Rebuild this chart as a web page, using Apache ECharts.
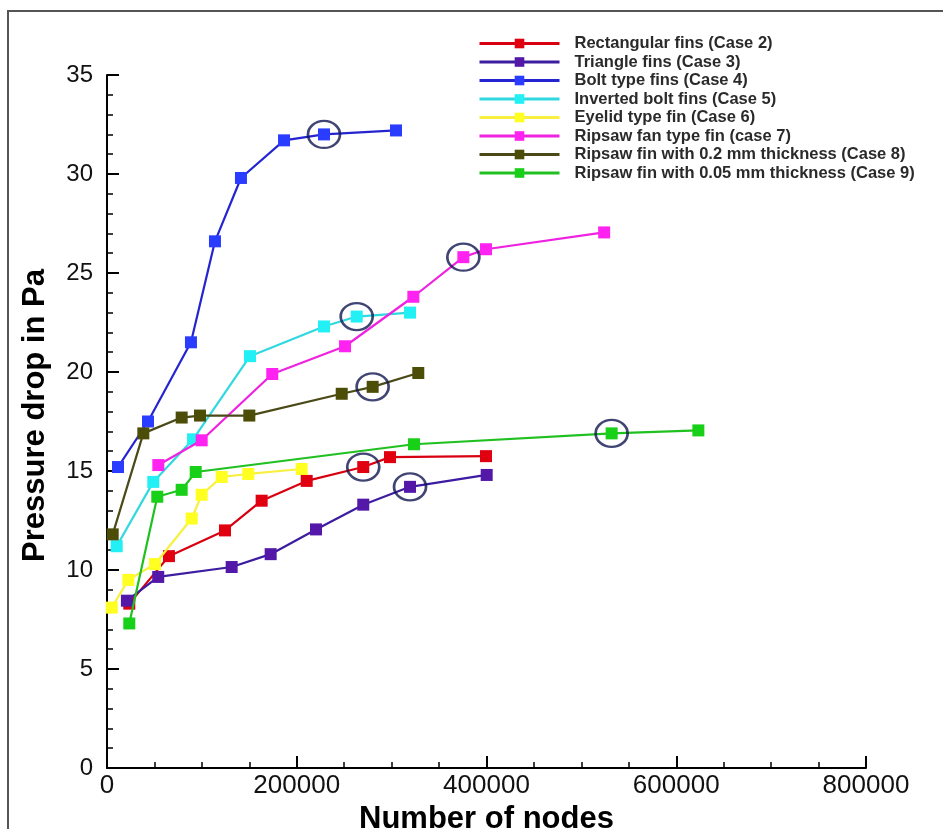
<!DOCTYPE html>
<html>
<head>
<meta charset="utf-8">
<script src="https://cdn.jsdelivr.net/npm/echarts@6/dist/echarts.min.js"></script>
<style>
  html, body { margin: 0; padding: 0; background: #fff; }
  #chart { width: 943px; height: 829px; }
</style>
</head>
<body>
<div id="chart"></div>
<script>
// series names (legend order)
var names = [
  'Rectangular fins (Case 2)',
  'Triangle fins (Case 3)',
  'Bolt type fins (Case 4)',
  'Inverted bolt fins (Case 5)',
  'Eyelid type fin (Case 6)',
  'Ripsaw fan type fin (case 7)',
  'Ripsaw fin with 0.2 mm thickness (Case 8)',
  'Ripsaw fin with 0.05 mm thickness (Case 9)'
];

// [nodes, pressure drop]
var rectFins = [[23500, 8.3], [65300, 10.7], [124400, 12.0], [163000, 13.5], [210500, 14.5], [270100, 15.2], [298300, 15.7], [399500, 15.75]];
var triFins = [[21000, 8.45], [54000, 9.65], [131400, 10.15], [172500, 10.8], [220300, 12.05], [270100, 13.3], [319400, 14.2], [400200, 14.8]];
var boltFins = [[11600, 15.2], [43200, 17.5], [88500, 21.5], [113800, 26.6], [141200, 29.8], [186600, 31.7], [228700, 32.0], [304600, 32.2]];
var invBoltFins = [[10200, 11.2], [48800, 14.45], [90700, 16.6], [150700, 20.8], [228700, 22.3], [263200, 22.8], [319400, 23.0]];
var eyelidFins = [[5000, 8.1], [22500, 9.5], [50600, 10.3], [89300, 12.6], [99800, 13.8], [120900, 14.7], [148900, 14.85], [205200, 15.1]];
var ripsawFan = [[54100, 15.3], [99800, 16.55], [174200, 19.9], [250900, 21.3], [322900, 23.8], [375600, 25.8], [399500, 26.2], [524000, 27.05]];
var ripsaw02 = [[6000, 11.8], [38300, 16.9], [78700, 17.7], [98000, 17.8], [150000, 17.8], [247400, 18.9], [280000, 19.25], [328100, 19.95]];
var ripsaw005 = [[23500, 7.3], [53000, 13.7], [78700, 14.05], [93500, 14.95], [323600, 16.35], [531900, 16.9], [623300, 17.05]];

// index of the circled (chosen) grid in each series, -1 = none
var circledIdx = [5, 6, 6, 5, -1, 5, 6, 5];

var allData = [rectFins, triFins, boltFins, invBoltFins, eyelidFins, ripsawFan, ripsaw02, ripsaw005];
var symColors = ['#e00010', '#5418a8', '#2a3cff', '#22f0f4', '#ffff22', '#ff22f0', '#4c4e08', '#18d018'];
var lineColors = ['#d80010', '#3c1ca0', '#2424d0', '#30d8e0', '#f8f040', '#ee22e0', '#4a4a18', '#20c020'];

var myChart = echarts.init(document.getElementById('chart'));

var series = allData.map(function (d, i) {
  return {
    name: names[i],
    type: 'line',
    data: d,
    symbol: 'rect',
    symbolSize: 12,
    lineStyle: { color: lineColors[i], width: 2.2 },
    itemStyle: { color: symColors[i] },
    z: 2 + i,
    animation: false
  };
});

var circles = [];
circledIdx.forEach(function (k, i) {
  if (k >= 0) circles.push(allData[i][k]);
});
series.push({
  name: 'chosen',
  type: 'scatter',
  data: circles,
  symbol: 'circle',
  symbolSize: [32, 27],
  itemStyle: { color: 'rgba(0,0,0,0)', borderColor: '#121650', borderWidth: 2.5 },
  z: 20,
  silent: true,
  animation: false
});

myChart.setOption({
  backgroundColor: '#fff',
  textStyle: { fontFamily: 'Liberation Sans, Arial, sans-serif' },
  graphic: [{
    type: 'polyline',
    shape: { points: [[8, 829], [8, 11], [943, 11]] },
    style: { stroke: '#555', lineWidth: 2, fill: null },
    silent: true
  }],
  grid: { left: 107, right: 77, top: 75, bottom: 61, containLabel: false, outerBoundsMode: 'none' },
  legend: {
    data: names,
    orient: 'vertical',
    left: 478,
    top: 35,
    padding: 0,
    itemWidth: 80,
    itemHeight: 12,
    itemGap: 1.5,
    lineStyle: { width: 3 },
    textStyle: { fontSize: 16.5, fontWeight: 'bold', color: '#2a2a2a', padding: [0, 0, 0, 10] },
    selectedMode: false
  },
  xAxis: {
    type: 'value',
    min: 0,
    max: 800000,
    interval: 200000,
    name: 'Number of nodes',
    nameLocation: 'middle',
    nameGap: 24,
    nameTextStyle: { fontSize: 31, fontWeight: 'bold', color: '#000' },
    axisLine: { lineStyle: { color: '#000', width: 2 } },
    axisTick: { inside: true, length: 12, lineStyle: { color: '#000', width: 2 } },
    minorTick: { show: true, splitNumber: 4, length: 6, lineStyle: { color: '#000', width: 1.5 } },
    axisLabel: { fontSize: 26, color: '#111', margin: 5, formatter: function (v) { return String(v); } },
    splitLine: { show: false }
  },
  yAxis: {
    type: 'value',
    min: 0,
    max: 35,
    interval: 5,
    name: 'Pressure drop in Pa',
    nameLocation: 'middle',
    nameGap: 56,
    nameTextStyle: { fontSize: 31, fontWeight: 'bold', color: '#000', padding: [0, 0, 0, 12] },
    axisLine: { show: true, lineStyle: { color: '#000', width: 2 } },
    axisTick: { show: true, inside: true, length: 12, lineStyle: { color: '#000', width: 2 } },
    minorTick: { show: true, splitNumber: 5, length: 6, lineStyle: { color: '#000', width: 1.5 } },
    axisLabel: { fontSize: 24, color: '#111', margin: 14 },
    splitLine: { show: false }
  },
  series: series
});

window.addEventListener('resize', function () {
  myChart.resize();
});
</script>
</body>
</html>
